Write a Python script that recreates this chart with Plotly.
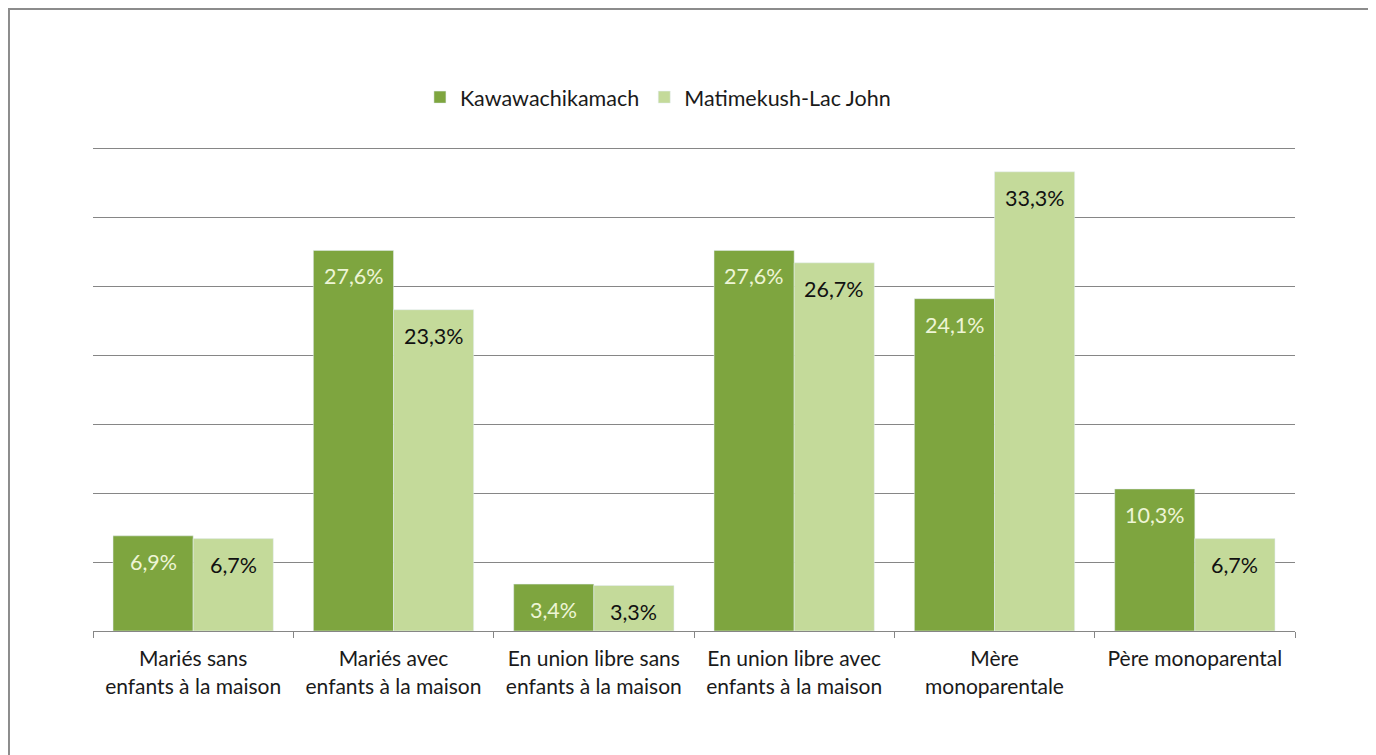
import plotly.graph_objects as go

categories = [
    "Mariés sans<br>enfants à la maison",
    "Mariés avec<br>enfants à la maison",
    "En union libre sans<br>enfants à la maison",
    "En union libre avec<br>enfants à la maison",
    "Mère<br>monoparentale",
    "Père monoparental<br> ",
]
kawawachikamach = [6.9, 27.6, 3.4, 27.6, 24.1, 10.3]
matimekush = [6.7, 23.3, 3.3, 26.7, 33.3, 6.7]

dark_green = "#7ea53f"
light_green = "#c4da9a"
grid_grey = "#868686"
font_family = "Lato, 'Noto Sans', sans-serif"

fig = go.Figure()
fig.add_trace(go.Bar(x=categories, y=kawawachikamach, name="Kawawachikamach",
                     marker_color=dark_green, hoverinfo="skip"))
fig.add_trace(go.Bar(x=categories, y=matimekush, name="Matimekush-Lac John",
                     marker_color=light_green, hoverinfo="skip"))

# value labels near the top of each bar
for series, shift, colour in [(kawawachikamach, -40, "#eef5d6"), (matimekush, 40, "#111111")]:
    for cat, val in zip(categories, series):
        fig.add_annotation(x=cat, y=val, xshift=shift, yshift=-26,
                           text=f"{val:.1f}%".replace(".", ","), showarrow=False,
                           font=dict(size=21.5, color=colour, family=font_family))

# outer frame of the picture
fig.add_shape(type="rect", xref="paper", yref="paper",
              x0=-0.0699, x1=1.064, y0=-0.35, y1=1.285,
              line=dict(color="#8c8c8c", width=2), layer="below")

# the page adds an 8px body margin, so the margins are trimmed by that
fig.update_layout(
    width=1376, height=755,
    margin=dict(l=85, r=89, t=139, b=132),
    paper_bgcolor="white", plot_bgcolor="white",
    barmode="group", bargap=0.2, bargroupgap=0,
    font=dict(family=font_family, size=21, color="#1a1a1a"),
    legend=dict(orientation="h", x=0.47, xanchor="center", y=1.103, yanchor="middle",
                font=dict(size=21.5), itemwidth=30, traceorder="normal"),
    showlegend=True,
)
fig.update_xaxes(showline=True, linecolor=grid_grey, linewidth=1,
                 ticks="outside", tickson="boundaries", ticklen=6, tickcolor=grid_grey,
                 ticklabelstandoff=9, showgrid=False)
fig.update_yaxes(range=[0, 35.1], dtick=5, showticklabels=False, showgrid=True,
                 gridcolor=grid_grey, gridwidth=1, zeroline=False, showline=False)

fig.write_html("out.html")
